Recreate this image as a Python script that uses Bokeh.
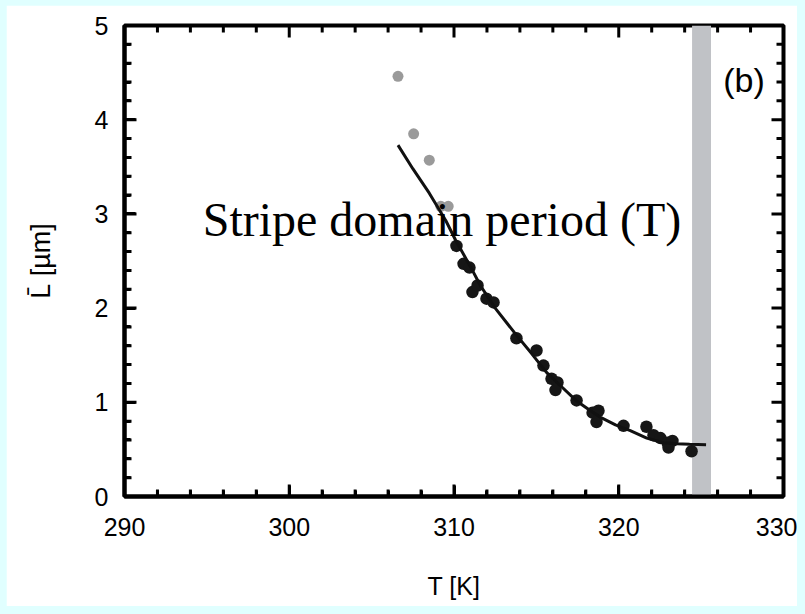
from bokeh.plotting import figure
from bokeh.models import FixedTicker, Label, Range1d
from bokeh.embed import file_html
from bokeh.resources import INLINE

# ---- data ----
gray_T = [306.6, 307.55, 308.5, 309.2, 309.65]
gray_L = [4.46, 3.85, 3.57, 3.08, 3.08]

black_T = [310.15, 310.58, 310.94, 311.12, 311.43, 311.97, 312.40, 313.79, 315.01, 315.43,
           315.92, 316.28, 316.16, 317.44, 318.41, 318.77, 318.65, 320.29, 321.68, 322.11,
           322.53, 322.96, 323.26, 323.02, 324.42]
black_L = [2.66, 2.47, 2.43, 2.17, 2.24, 2.10, 2.06, 1.68, 1.55, 1.39,
           1.25, 1.21, 1.13, 1.02, 0.89, 0.91, 0.79, 0.75, 0.74, 0.65,
           0.62, 0.57, 0.59, 0.52, 0.48]

fit_T = [306.6, 307.5, 308.5, 309.5, 310.1, 311.0, 311.6, 312.5, 313.8, 314.7, 315.6,
         316.5, 317.4, 318.2, 318.9, 319.8, 320.7, 321.7, 322.7, 323.5, 324.3, 325.3]
fit_L = [3.73, 3.48, 3.22, 2.93, 2.72, 2.44, 2.24, 2.00, 1.71, 1.52, 1.32,
         1.17, 1.02, 0.92, 0.84, 0.76, 0.70, 0.62, 0.57, 0.56, 0.555, 0.55]

band_left = [324.45]
band_right = [325.6]

x_major = [290, 300, 310, 320, 330]
x_minor = [292, 294, 296, 298, 302, 304, 306, 308, 312, 314, 316, 318,
           322, 324, 326, 328]
y_major = [0, 1, 2, 3, 4, 5]
y_minor = [0.2, 0.4, 0.6, 0.8, 1.2, 1.4, 1.6, 1.8, 2.2, 2.4, 2.6, 2.8,
           3.2, 3.4, 3.6, 3.8, 4.2, 4.4, 4.6, 4.8]

X_MIN, X_MAX = 290, 330
Y_MIN, Y_MAX = 0, 5

FONT = "Liberation Sans"

W, H = 791, 601
BL, BR, BT, BB = 118, 14, 20, 110
FRAME_W = W - BL - BR
FRAME_H = H - BT - BB
MAJOR_PX, MINOR_PX, TICK_W_PX = 12, 7, 3
xu = (X_MAX - X_MIN) / FRAME_W   # data units per pixel
yu = (Y_MAX - Y_MIN) / FRAME_H

p = figure(width=W, height=H, x_range=Range1d(X_MIN, X_MAX), y_range=Range1d(Y_MIN, Y_MAX),
           output_backend="svg", toolbar_location=None,
           min_border_left=BL, min_border_right=BR, min_border_top=BT, min_border_bottom=BB,
           x_axis_label="T [K]", y_axis_label="L\u0304 [\u00b5m]")
p.grid.visible = False
p.background_fill_color = "white"
p.border_fill_color = "white"
p.outline_line_color = "black"
p.outline_line_width = 4

# band
p.quad(left=band_left, right=band_right, bottom=[Y_MIN], top=[Y_MAX],
       fill_color="#c0c2c6", line_color=None)

# inward tick marks on all four sides, drawn as thin filled bars
def vticks(xs, px):
    n = len(xs)
    hw = TICK_W_PX / 2 * xu
    lefts = [x - hw for x in xs]
    rights = [x + hw for x in xs]
    p.quad(left=lefts, right=rights, bottom=[Y_MIN] * n, top=[Y_MIN + px * yu] * n,
           fill_color="black", line_color=None)
    p.quad(left=lefts, right=rights, bottom=[Y_MAX - px * yu] * n, top=[Y_MAX] * n,
           fill_color="black", line_color=None)

def hticks(ys, px):
    n = len(ys)
    hh = TICK_W_PX / 2 * yu
    bots = [y - hh for y in ys]
    tops = [y + hh for y in ys]
    p.quad(left=[X_MIN] * n, right=[X_MIN + px * xu] * n, bottom=bots, top=tops,
           fill_color="black", line_color=None)
    p.quad(left=[X_MAX - px * xu] * n, right=[X_MAX] * n, bottom=bots, top=tops,
           fill_color="black", line_color=None)

vticks(x_major, MAJOR_PX)
vticks(x_minor, MINOR_PX)
hticks(y_major, MAJOR_PX)
hticks(y_minor, MINOR_PX)

# points and fit
p.scatter(gray_T, gray_L, size=11, fill_color="#9a9a9a", line_color=None)
p.scatter(black_T, black_L, size=12.5, fill_color="#161616", line_color=None)
p.line(fit_T, fit_L, line_color="#111111", line_width=3)

bottom = p.below[0]
left = p.left[0]
bottom.ticker = FixedTicker(ticks=x_major, minor_ticks=x_minor)
left.ticker = FixedTicker(ticks=y_major, minor_ticks=y_minor)

for ax in [bottom, left]:
    ax.axis_line_width = 4
    ax.axis_line_color = "black"
    ax.major_tick_in = 11
    ax.major_tick_out = 0
    ax.minor_tick_in = 6
    ax.minor_tick_out = 0
    ax.major_tick_line_width = 3
    ax.minor_tick_line_width = 3
    ax.major_tick_line_color = "black"
    ax.minor_tick_line_color = "black"
    ax.major_label_text_font = FONT
    ax.major_label_text_font_size = "25px"
    ax.major_label_text_color = "black"
    ax.axis_label_text_font = FONT
    ax.axis_label_text_font_style = "normal"
    ax.axis_label_text_color = "black"

bottom.axis_label_text_font_size = "25px"
left.axis_label_text_font_size = "27px"
bottom.major_label_standoff = 21
left.major_label_standoff = 16
bottom.axis_label_standoff = 33
left.axis_label_standoff = 36

# annotations
p.add_layout(Label(x=327.6, y=4.42, text="(b)", text_font=FONT, text_font_size="34px",
                   text_align="center", text_baseline="middle", text_color="black"))
p.add_layout(Label(x=309.27, y=2.94, text="Stripe domain period (T)", text_font="Liberation Serif",
                   text_font_size="48px", text_align="center", text_baseline="alphabetic",
                   text_color="black"))

html = file_html(p, INLINE)
html = html.replace("</head>",
                    "<style>html, body { background-color: #e0ffff; margin: 0; }"
                    " body { padding: 5px 0 0 6px; }</style></head>", 1)
open("out.html", "w").write(html)
